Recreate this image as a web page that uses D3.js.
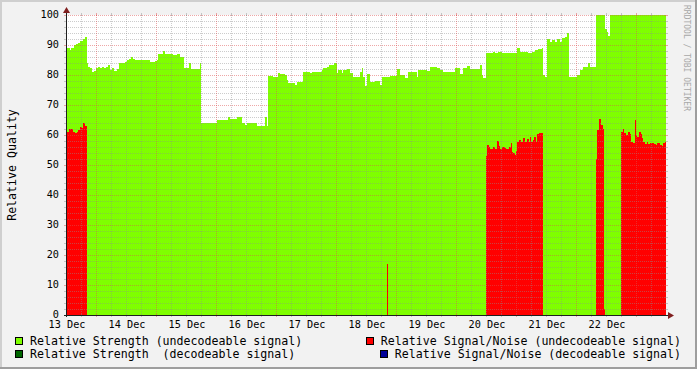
<!DOCTYPE html>
<html>
<head>
<meta charset="utf-8">
<script src="https://cdn.jsdelivr.net/npm/d3@7"></script>
<style>
  html, body { margin: 0; padding: 0; background: #f2f2f2; }
  svg { display: block; }
  text { font-family: "DejaVu Sans Mono", monospace; }
</style>
</head>
<body>
<svg id="chart" width="697" height="369"></svg>
<script>
// hours since 13 Dec 12:00
var strengthHours = [
  0, 1.6, 2.1, 3.2, 4.0, 4.8, 5.6, 6.9, 7.7, 8.4,
  8.8, 9.6, 10.4, 11.2, 12.0, 12.8, 13.6, 14.4, 15.2, 16.0,
  16.8, 17.6, 18.4, 19.2, 20.4, 21.1, 23.5, 24.3, 25.1, 25.9,
  26.7, 27.5, 33.6, 35.5, 36.3, 36.8, 38.9, 39.5, 42.9, 44.3,
  45.6, 46.4, 47.2, 49.1, 49.9, 53.6, 54.1, 60.3, 64.9, 65.6,
  66.9, 68.3, 70.3, 71.6, 72.3, 76.3, 77.6, 79.6, 80.3, 80.8,
  82.9, 84.9, 85.6, 87.6, 88.3, 88.9, 89.6, 91.6, 92.3, 94.9,
  97.6, 98.3, 102.3, 102.9, 104.3, 105.3, 107.3, 108.3, 108.9, 110.3,
  110.9, 112.3, 113.6, 114.9, 117.6, 118.3, 118.9, 119.6, 120.3, 121.6,
  123.6, 125.6, 126.3, 129.6, 132.3, 133.6, 135.6, 136.9, 140.3, 140.9,
  144.3, 145.6, 148.3, 149.6, 150.9, 155.6, 157.6, 158.9, 160.3, 161.6,
  165.6, 166.3, 166.9, 168, 170.9, 171.6, 172.9, 174.3, 180.3, 181.6,
  184.9, 186.3, 187.6, 188.9, 190.3, 190.7, 191.6, 192.5, 193.6, 194.3,
  195.6, 196.3, 197.6, 198.3, 199.6, 200.3, 201.3, 204.3, 205.6, 206.9,
  208.9, 209.6, 212, 215.6, 216.3, 216.9, 217.6, 240
];
var strengthValues = [
  88.9, 88.3, 88.9, 90, 90.5, 90.8, 91.3, 91.9, 92.6, 83.9,
  82.8, 82.2, 81.1, 81.4, 82.2, 82.6, 82.2, 82.8, 82.2, 82.6,
  83.5, 81.7, 82.2, 81.4, 82.0, 84.1, 84.4, 85, 85.4, 85.9,
  85.4, 85, 84.5, 84.7, 85, 87, 88, 87, 86.7, 87,
  86.1, 85.9, 82.2, 84.1, 82, 84.1, 63.9, 65, 65.9, 65.2,
  65.5, 65.9, 63.9, 63.3, 64.1, 62.9, 63.1, 65.9, 63.1, 79.7,
  79.2, 80.8, 80.3, 80.0, 78.3, 77.4, 77.2, 76.7, 77.8, 81.1,
  80.6, 81.1, 81.7, 82.2, 82.8, 83.3, 83.9, 80.8, 81.7, 80.8,
  81.7, 81.9, 80.6, 79.4, 81.1, 82.2, 79.4, 76.3, 80.3, 77.8,
  78, 76.7, 79.2, 79.7, 81.9, 80, 78.9, 81.1, 79.4, 81.7,
  81.5, 82.8, 82.2, 81.6, 81.1, 82.2, 80.3, 82.2, 82.9, 81.9,
  83.3, 80, 78.9, 87.4, 87.8, 87.2, 87.8, 87.2, 88.9, 87.8,
  87.5, 87.8, 88.3, 88.6, 88.9, 80, 79.2, 91.9, 91.1, 91.7,
  91.1, 91.9, 91.1, 92.2, 92.8, 93.9, 79.2, 80, 81.7, 82.8,
  84, 82.8, 100, 95.2, 94.4, 93, 100, 100
];

var noiseHours = [
  0, 1.2, 2.9, 3.6, 4.3, 4.9, 5.6, 6.3, 6.9, 7.6,
  8.3, 128.4, 128.8, 168, 168.5, 169.1, 169.6, 170.7, 171.5, 172.3,
  173.1, 173.6, 174.4, 175.5, 176, 177.3, 177.9, 178.4, 178.9, 179.5,
  180, 180.5, 181.3, 182.1, 182.9, 183.7, 184.3, 185.1, 185.6, 186.1,
  186.7, 187.2, 188, 188.5, 189.3, 190.1, 190.9, 212, 212.5, 213.1,
  213.3, 213.9, 214.7, 215.2, 215.6, 222, 222.7, 223.2, 224, 224.9,
  225.6, 226.1, 226.7, 227.6, 228, 228.5, 229.3, 229.9, 230.4, 230.9,
  231.6, 232.3, 232.9, 233.6, 235.2, 235.9, 236.3, 237.6, 238.3, 238.9,
  239.7, 240
];
var noiseValues = [
  61.1, 62, 61.1, 60.6, 61.1, 61.7, 62.8, 62.4, 63.9, 63.1,
  0, 17, 0, 53, 56.7, 56.1, 55.2, 56.1, 55.2, 58,
  56.3, 55.2, 56.1, 55.6, 55.2, 56.1, 57.2, 54.4, 54.1, 53.3,
  54.8, 57.8, 58.3, 57.6, 59, 57.8, 58.6, 57.6, 59.2, 57.8,
  58.3, 59.4, 57.6, 60.3, 60.8, 60.6, 0, 51.9, 61.7, 57.2,
  65.2, 63.3, 61.9, 2, 0, 61.1, 61.9, 60.6, 60, 61.1,
  60.3, 57.8, 57.2, 65, 60, 59.4, 61.1, 60.3, 58.9, 57.8,
  57, 57.8, 57, 57.2, 57, 56.8, 57.2, 56.8, 56.3, 57.2,
  57.8, 57.8
];

var yTicks = [0, 10, 20, 30, 40, 50, 60, 70, 80, 90, 100];
var dayLabels = ["13 Dec", "14 Dec", "15 Dec", "16 Dec", "17 Dec", "18 Dec", "19 Dec", "20 Dec", "21 Dec", "22 Dec"];
var legendLeft = ["Relative Strength (undecodeable signal)", "Relative Strength  (decodeable signal)"];
var legendRight = ["Relative Signal/Noise (undecodeable signal)", "Relative Signal/Noise (decodeable signal)"];
var legendLeftColors = ["#7fff00", "#006600"];
var legendRightColors = ["#ff0000", "#000099"];

(function() {
  var W = 697, H = 369;
  var pl = 66, pr = 666, pt = 15, pb = 315;
  var start = new Date(Date.UTC(2010, 11, 13, 12));
  var end = new Date(start.getTime() + 240 * 3600e3);
  var toDate = function(h) { return new Date(start.getTime() + h * 3600e3); };

  var svg = d3.select("#chart");

  // frame
  svg.append("rect").attr("width", W).attr("height", H).attr("fill", "#f2f2f2");
  svg.append("path").attr("d", "M0,0H" + W + "V2H2V" + H + "H0Z").attr("fill", "#cfcfcf");
  svg.append("path").attr("d", "M" + W + "," + H + "H0V" + (H - 2) + "H" + (W - 2) + "V0H" + W + "Z").attr("fill", "#9e9e9e");

  svg.append("rect")
      .attr("x", pl).attr("y", pt)
      .attr("width", pr - pl).attr("height", pb - pt)
      .attr("fill", "#fff");

  var x = d3.scaleUtc().domain([start, end]).range([pl, pr]);
  var y = d3.scaleLinear().domain([0, 100]).range([pb, pt]);

  var strength = strengthHours.map(function(h, i) { return [toDate(h), strengthValues[i]]; });
  var noise = noiseHours.map(function(h, i) { return [toDate(h), noiseValues[i]]; });

  var area = d3.area()
      .curve(d3.curveStepAfter)
      .x(function(d) { return x(d[0]); })
      .y0(y(0))
      .y1(function(d) { return y(d[1]); });

  svg.append("path").datum(strength)
      .attr("d", area).attr("fill", "#7fff00").attr("shape-rendering", "crispEdges");
  svg.append("path").datum(noise)
      .attr("d", area).attr("fill", "#ff0000").attr("shape-rendering", "crispEdges");

  // grid, drawn over the data like rrdtool does
  var grid = svg.append("g").attr("shape-rendering", "crispEdges").attr("stroke-width", 1);
  var minorCol = "rgba(143,143,143,0.45)", majorCol = "rgba(222,79,79,0.5)";

  d3.range(2, 101, 2).forEach(function(v) {
    var major = v % 10 === 0;
    var yy = Math.round(y(v)) + 0.5;
    var c = major ? majorCol : minorCol;
    grid.append("line").attr("x1", pl).attr("x2", pr).attr("y1", yy).attr("y2", yy)
        .attr("stroke", c).attr("stroke-dasharray", "1,1");
    grid.append("line").attr("x1", pl - 2).attr("x2", pl + 1).attr("y1", yy).attr("y2", yy).attr("stroke", c);
    grid.append("line").attr("x1", pr - 1).attr("x2", pr + 2).attr("y1", yy).attr("y2", yy).attr("stroke", c);
  });

  d3.utcHour.every(6).range(start, end).forEach(function(t) {
    var xx = Math.round(x(t)) + 0.5;
    if (xx <= pl + 1) return;
    var major = t.getUTCHours() === 0;
    var c = major ? majorCol : minorCol;
    grid.append("line").attr("x1", xx).attr("x2", xx).attr("y1", pt).attr("y2", pb)
        .attr("stroke", c).attr("stroke-dasharray", "1,1");
    grid.append("line").attr("x1", xx).attr("x2", xx).attr("y1", pb - 1).attr("y2", pb + 2).attr("stroke", c);
    grid.append("line").attr("x1", xx).attr("x2", xx).attr("y1", pt - 2).attr("y2", pt + 1).attr("stroke", c);
  });

  // axes with arrows
  var axisCol = "#1f1f1f", arrowCol = "#801f1f";
  svg.append("line").attr("x1", pl - 2).attr("x2", pr + 4).attr("y1", pb + 0.5).attr("y2", pb + 0.5)
      .attr("stroke", axisCol).attr("shape-rendering", "crispEdges");
  svg.append("line").attr("x1", pl + 0.5).attr("x2", pl + 0.5).attr("y1", pb + 2).attr("y2", pt - 4)
      .attr("stroke", axisCol).attr("shape-rendering", "crispEdges");
  svg.append("path").attr("d", "M" + (pr + 2) + "," + (pb - 3) + "L" + (pr + 8) + "," + (pb + 0.5) + "L" + (pr + 2) + "," + (pb + 4) + "Z")
      .attr("fill", arrowCol);
  svg.append("path").attr("d", "M" + (pl - 3) + "," + (pt - 2) + "L" + (pl + 0.5) + "," + (pt - 8) + "L" + (pl + 4) + "," + (pt - 2) + "Z")
      .attr("fill", arrowCol);

  // tick labels
  svg.append("g").selectAll("text").data(yTicks).enter().append("text")
      .attr("x", pl - 7)
      .attr("y", function(d) { return y(d); })
      .attr("dy", "0.34em")
      .attr("text-anchor", "end")
      .attr("font-size", "10.2px")
      .text(function(d) { return d; });

  // day labels sit at noon of each day
  svg.append("g").selectAll("text").data(dayLabels).enter().append("text")
      .attr("x", function(d, i) { return x(toDate(i * 24)) + 1; })
      .attr("y", pb + 13)
      .attr("text-anchor", "middle")
      .attr("font-size", "10.2px")
      .text(function(d) { return d; });

  // y title
  svg.append("text")
      .attr("transform", "translate(16," + ((pt + pb) / 2) + ") rotate(-90)")
      .attr("text-anchor", "middle")
      .attr("font-size", "11.6px")
      .text("Relative Quality");

  // watermark
  svg.append("text")
      .attr("transform", "translate(683.5,5) rotate(90)")
      .attr("font-size", "8px")
      .attr("fill", "#a8a8a8")
      .text("RRDTOOL / TOBI OETIKER");

  // legend
  var rowY = [345, 358];
  legendLeft.forEach(function(label, i) {
    svg.append("rect").attr("x", 15.5).attr("y", rowY[i] - 7.5).attr("width", 7).attr("height", 7)
        .attr("fill", legendLeftColors[i]).attr("stroke", "#000").attr("shape-rendering", "crispEdges");
    svg.append("text").attr("x", 30).attr("y", rowY[i]).attr("font-size", "11.6px")
        .style("white-space", "pre").text(label);
  });
  legendRight.forEach(function(label, i) {
    var t = svg.append("text").attr("x", 681).attr("y", rowY[i]).attr("text-anchor", "end")
        .attr("font-size", "11.6px").style("white-space", "pre").text(label);
    var x0 = 681 - t.node().getComputedTextLength();
    svg.append("rect").attr("x", Math.round(x0 - 15) + 0.5).attr("y", rowY[i] - 7.5).attr("width", 7).attr("height", 7)
        .attr("fill", legendRightColors[i]).attr("stroke", "#000").attr("shape-rendering", "crispEdges");
  });
})();
</script>
</body>
</html>
